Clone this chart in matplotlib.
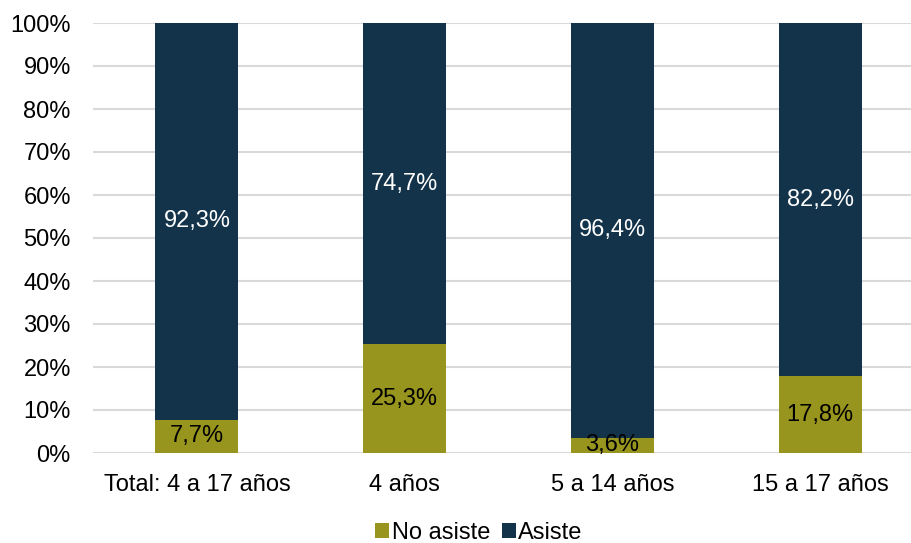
import matplotlib
matplotlib.use("Agg")
import matplotlib.pyplot as plt
import numpy as np

plt.rcParams['font.family'] = ['Liberation Sans', 'DejaVu Sans']

categorias = ["Total: 4 a 17 años", "4 años", "5 a 14 años", "15 a 17 años"]
no_asiste = [7.7, 25.3, 3.6, 17.8]
asiste = [92.3, 74.7, 96.4, 82.2]

color_no = "#98951F"
color_si = "#13334A"
fs = 17

fig = plt.figure(figsize=(9.12, 5.43), dpi=100)
ax = fig.add_axes([93/912, 90/543, 819/912, 430/543])

x = np.arange(len(categorias))
ancho = 0.4
b1 = ax.bar(x, no_asiste, ancho, color=color_no, label="No asiste", zorder=3)
b2 = ax.bar(x, asiste, ancho, bottom=no_asiste, color=color_si, label="Asiste", zorder=3)

def fmt(v):
    return ("%.1f%%" % v).replace(".", ",")

for i in range(len(categorias)):
    ax.text(x[i], no_asiste[i] / 2, fmt(no_asiste[i]), ha="center", va="center",
            fontsize=fs, color="black", zorder=4)
    ax.text(x[i], no_asiste[i] + asiste[i] / 2, fmt(asiste[i]), ha="center", va="center",
            fontsize=fs, color="white", zorder=4)

ax.set_xlim(-0.5, -0.5 + 819 / 207.8)
ax.set_ylim(0, 100)
ax.set_yticks(np.arange(0, 101, 10))
ax.set_yticklabels(["%d%%" % v for v in range(0, 101, 10)])
ax.set_xticks(x)
ax.set_xticklabels(categorias)
ax.tick_params(axis="both", length=0, labelsize=fs, colors="black")
ax.tick_params(axis="x", pad=15)
ax.tick_params(axis="y", pad=16)
ax.yaxis.grid(True, color="#D9D9D9", linewidth=1.5, zorder=0)
for s in ax.spines.values():
    s.set_visible(False)

fig.legend(handles=[b1, b2], loc="center", bbox_to_anchor=(479/912, 1 - 533/543),
           ncol=2, frameon=False, fontsize=fs, handlelength=0.6, handleheight=0.6,
           handletextpad=0.1, columnspacing=0.5, borderaxespad=0, borderpad=0)

fig.savefig("out.png", dpi=100)
